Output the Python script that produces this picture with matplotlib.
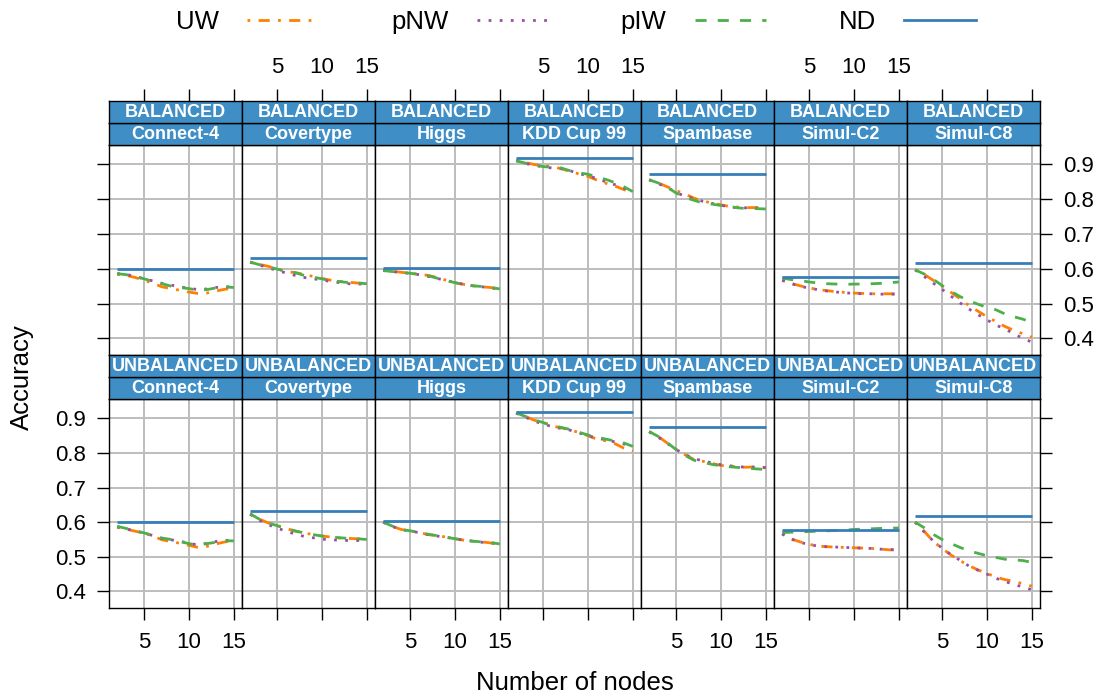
import matplotlib
matplotlib.use("Agg")
import matplotlib.pyplot as plt
from matplotlib.lines import Line2D

plt.rcParams['font.family'] = ['Liberation Sans', 'DejaVu Sans']

# ---------------- data ----------------
nodes = list(range(2, 16))
datasets = ['Connect-4', 'Covertype', 'Higgs', 'KDD Cup 99', 'Spambase', 'Simul-C2', 'Simul-C8']
settings = ['BALANCED', 'UNBALANCED']
methods = ['UW', 'pNW', 'pIW', 'ND']
x_ticks = [5, 10, 15]
y_ticks = [0.4, 0.5, 0.6, 0.7, 0.8, 0.9]

uw_bal = {
    'Connect-4':  [.584, .581, .575, .567, .558, .548, .543, .538, .533, .529, .530, .536, .541, .545],
    'Covertype':  [.619, .613, .607, .600, .592, .589, .584, .578, .572, .567, .564, .561, .559, .557],
    'Higgs':      [.595, .593, .590, .587, .584, .581, .575, .567, .560, .555, .551, .548, .546, .540],
    'KDD Cup 99': [.911, .906, .900, .896, .894, .888, .880, .873, .866, .855, .846, .838, .828, .816],
    'Spambase':   [.856, .847, .836, .825, .815, .803, .795, .789, .784, .779, .777, .776, .776, .775],
    'Simul-C2':   [.567, .558, .551, .545, .540, .537, .534, .532, .530, .529, .528, .528, .528, .528],
    'Simul-C8':   [.597, .584, .567, .550, .532, .514, .494, .478, .462, .448, .434, .423, .413, .403],
}
pnw_bal = {
    'Connect-4':  [.586, .584, .578, .571, .565, .558, .553, .548, .544, .540, .542, .546, .549, .546],
    'Covertype':  [.619, .611, .603, .595, .588, .581, .575, .571, .568, .563, .560, .557, .556, .556],
    'Higgs':      [.595, .592, .589, .587, .583, .578, .572, .567, .560, .555, .551, .548, .546, .541],
    'KDD Cup 99': [.911, .903, .898, .893, .890, .888, .882, .874, .867, .860, .850, .842, .832, .821],
    'Spambase':   [.856, .845, .834, .820, .808, .802, .794, .788, .783, .777, .776, .775, .775, .774],
    'Simul-C2':   [.567, .557, .550, .544, .540, .536, .533, .531, .529, .528, .528, .527, .527, .527],
    'Simul-C8':   [.597, .578, .559, .541, .521, .502, .484, .468, .453, .438, .427, .413, .400, .389],
}
piw_bal = {
    'Connect-4':  [.586, .583, .578, .571, .564, .557, .550, .546, .543, .538, .540, .545, .548, .546],
    'Covertype':  [.619, .612, .606, .599, .593, .589, .581, .576, .571, .566, .563, .560, .559, .557],
    'Higgs':      [.595, .592, .590, .587, .584, .580, .573, .566, .560, .554, .551, .549, .546, .542],
    'KDD Cup 99': [.911, .904, .899, .894, .892, .890, .882, .876, .872, .864, .857, .848, .836, .822],
    'Spambase':   [.856, .847, .835, .818, .805, .797, .789, .786, .782, .779, .775, .773, .773, .772],
    'Simul-C2':   [.573, .569, .566, .562, .559, .557, .556, .555, .556, .556, .557, .558, .560, .562],
    'Simul-C8':   [.597, .585, .570, .552, .535, .520, .508, .498, .489, .482, .470, .462, .455, .446],
}
nd_bal = {'Connect-4': .598, 'Covertype': .631, 'Higgs': .603, 'KDD Cup 99': .918,
          'Spambase': .873, 'Simul-C2': .576, 'Simul-C8': .616}

uw_unbal = {
    'Connect-4':  [.585, .580, .574, .568, .560, .549, .544, .539, .533, .527, .530, .537, .543, .546],
    'Covertype':  [.624, .609, .598, .590, .582, .574, .569, .564, .560, .557, .554, .553, .552, .550],
    'Higgs':      [.600, .588, .579, .574, .571, .564, .561, .557, .552, .548, .545, .543, .540, .536],
    'KDD Cup 99': [.916, .906, .895, .888, .878, .873, .867, .859, .850, .840, .835, .827, .814, .805],
    'Spambase':   [.862, .848, .829, .811, .795, .781, .776, .770, .764, .762, .759, .759, .760, .757],
    'Simul-C2':   [.567, .552, .543, .536, .531, .529, .528, .527, .526, .525, .524, .522, .520, .519],
    'Simul-C8':   [.600, .574, .545, .524, .505, .489, .474, .462, .452, .441, .434, .429, .422, .415],
}
pnw_unbal = {
    'Connect-4':  [.587, .581, .574, .569, .561, .553, .549, .545, .539, .534, .539, .544, .548, .546],
    'Covertype':  [.623, .606, .593, .583, .574, .566, .559, .555, .551, .549, .548, .547, .547, .547],
    'Higgs':      [.600, .588, .579, .574, .570, .564, .560, .556, .552, .548, .545, .542, .540, .537],
    'KDD Cup 99': [.915, .904, .892, .884, .876, .871, .866, .858, .850, .843, .838, .832, .826, .820],
    'Spambase':   [.861, .846, .828, .810, .796, .783, .778, .771, .766, .763, .760, .759, .759, .758],
    'Simul-C2':   [.566, .551, .542, .535, .531, .529, .528, .527, .526, .525, .524, .522, .521, .520],
    'Simul-C8':   [.600, .572, .546, .525, .506, .490, .473, .461, .450, .438, .428, .421, .412, .405],
}
piw_unbal = {
    'Connect-4':  [.588, .582, .575, .569, .562, .554, .550, .544, .538, .534, .538, .542, .546, .546],
    'Covertype':  [.624, .609, .598, .590, .582, .575, .569, .564, .560, .557, .555, .553, .552, .550],
    'Higgs':      [.600, .589, .579, .575, .571, .565, .561, .557, .552, .549, .545, .543, .541, .537],
    'KDD Cup 99': [.916, .906, .896, .888, .880, .874, .868, .860, .852, .846, .840, .835, .829, .819],
    'Spambase':   [.862, .848, .830, .810, .793, .779, .773, .767, .763, .760, .758, .756, .754, .752],
    'Simul-C2':   [.570, .571, .572, .573, .574, .575, .576, .577, .579, .580, .581, .582, .583, .583],
    'Simul-C8':   [.600, .584, .565, .550, .538, .527, .517, .510, .503, .498, .493, .491, .489, .484],
}
nd_unbal = {'Connect-4': .600, 'Covertype': .631, 'Higgs': .603, 'KDD Cup 99': .919,
            'Spambase': .874, 'Simul-C2': .576, 'Simul-C8': .617}

series = {
    'BALANCED':   {'UW': uw_bal, 'pNW': pnw_bal, 'pIW': piw_bal, 'ND': nd_bal},
    'UNBALANCED': {'UW': uw_unbal, 'pNW': pnw_unbal, 'pIW': piw_unbal, 'ND': nd_unbal},
}

# ---------------- style ----------------
colors = {'UW': '#FF7F00', 'pNW': '#984EA3', 'pIW': '#4DAF4A', 'ND': '#377EB8'}
dash_styles = {'UW': (1, 3, 4, 3), 'pNW': (1, 3), 'pIW': (4, 4), 'ND': None}
LW = 2.0
STRIP_BG = '#3F8FC6'
GRID_C = '#BDBDBD'
TICK_FS = 16
LAB_FS = 18.5

# limits from data (lattice-like 7% padding)
all_vals = []
for s in settings:
    for m in methods:
        for d in datasets:
            v = series[s][m][d]
            all_vals.extend(v if isinstance(v, list) else [v])
ylo, yhi = min(all_vals), max(all_vals)
ypad = 0.07 * (yhi - ylo)
ylim = (ylo - ypad, yhi + ypad)
xpad = 0.07 * (max(nodes) - min(nodes))
xlim = (min(nodes) - xpad, max(nodes) + xpad)

W, H = 1104, 698
fig = plt.figure(figsize=(W / 100, H / 100), dpi=100)

left0, pw = 109, 133
rows_px = [(145, 355), (399, 608)]
strip_h = 22


def fbox(x0, y0, x1, y1):
    return [x0 / W, 1 - y1 / H, (x1 - x0) / W, (y1 - y0) / H]


for r, setting in enumerate(settings):
    top, bot = rows_px[r]
    for c, ds in enumerate(datasets):
        x0 = left0 + c * pw
        ax = fig.add_axes(fbox(x0, top, x0 + pw, bot))
        ax.set_xlim(xlim)
        ax.set_ylim(ylim)
        ax.set_xticks(x_ticks)
        ax.set_yticks(y_ticks)
        ax.grid(True, color=GRID_C, lw=1.4, zorder=0)
        ax.set_axisbelow(True)
        for sp in ax.spines.values():
            sp.set_linewidth(1.0)
            sp.set_color('black')
            sp.set_zorder(5)
        for m in methods:
            vals = series[setting][m][ds]
            if m == 'ND':
                yv = [vals] * len(nodes)
                ax.plot(nodes, yv, color=colors[m], lw=LW, solid_capstyle='butt', zorder=4)
            else:
                ax.plot(nodes, vals, color=colors[m], lw=LW, dashes=dash_styles[m],
                        dash_capstyle='butt', zorder=3)
        ax.tick_params(axis='both', direction='out', length=8.5, width=1.0,
                       labelsize=TICK_FS, pad=8,
                       left=(c == 0), labelleft=(c == 0 and r == 1),
                       right=(c == 6), labelright=(c == 6 and r == 0),
                       top=False, labeltop=False,
                       bottom=(r == 1), labelbottom=(r == 1 and c % 2 == 0))
        ax.tick_params(axis='x', pad=9)
        ax.set_yticklabels([f'{t:.1f}' for t in y_ticks])

        # strips
        s_ds = fig.add_axes(fbox(x0, top - strip_h, x0 + pw, top))
        s_st = fig.add_axes(fbox(x0, top - 2 * strip_h, x0 + pw, top - strip_h))
        for sa, txt in ((s_ds, ds), (s_st, setting)):
            sa.set_facecolor(STRIP_BG)
            sa.set_xlim(xlim)
            sa.set_yticks([])
            for sp in sa.spines.values():
                sp.set_linewidth(1.0)
                sp.set_color('black')
            sa.text(0.5, 0.47, txt, transform=sa.transAxes, ha='center', va='center',
                    color='white', fontsize=13, fontweight='bold')
            sa.tick_params(axis='x', bottom=False, labelbottom=False)
        if r == 0:
            s_st.set_xticks(x_ticks)
            s_st.tick_params(axis='x', direction='out', length=8.5, width=1.0,
                             top=True, labeltop=(c % 2 == 1), bottom=False,
                             labelbottom=False, labelsize=TICK_FS, pad=8)
        else:
            s_st.set_xticks([])

fig.text(575 / W, 1 - 683 / H, 'Number of nodes', ha='center', va='center', fontsize=LAB_FS)
fig.text(22 / W, 1 - 377 / H, 'Accuracy', ha='center', va='center', rotation=90, fontsize=LAB_FS)

handles = []
for m in methods:
    if dash_styles[m] is None:
        handles.append(Line2D([], [], color=colors[m], lw=LW))
    else:
        handles.append(Line2D([], [], color=colors[m], lw=LW, dashes=dash_styles[m],
                              dash_capstyle='butt'))
fig.legend(handles, methods, ncol=4, loc='center', bbox_to_anchor=(576 / W, 1 - 22 / H),
           frameon=False, markerfirst=False, fontsize=LAB_FS, handlelength=2.8,
           handletextpad=1.1, columnspacing=2.8)

fig.savefig('out.png', dpi=100)
